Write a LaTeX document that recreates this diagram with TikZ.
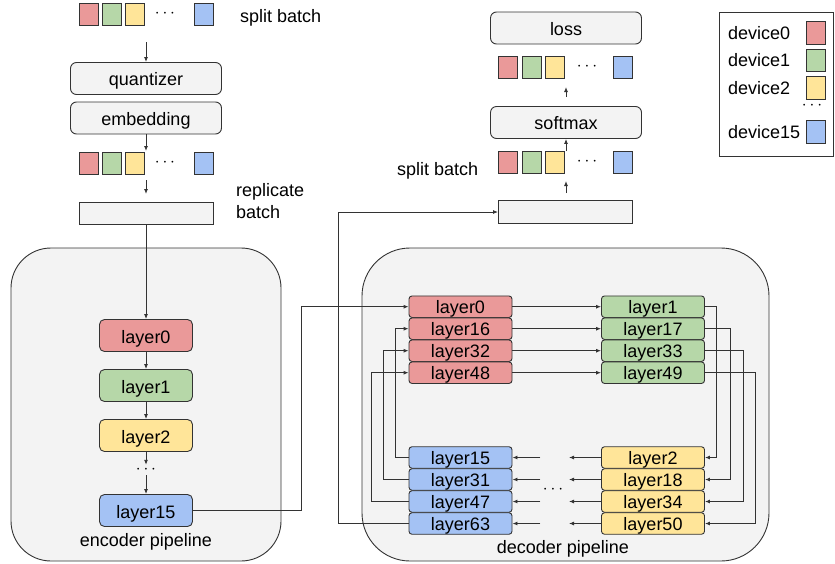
\documentclass[tikz,border=0pt]{standalone}
\usepackage{fontspec}
\setmainfont{Liberation Sans}
\usetikzlibrary{arrows.meta}

\definecolor{devred}{HTML}{EA9999}
\definecolor{devgreen}{HTML}{B6D7A8}
\definecolor{devyellow}{HTML}{FFE599}
\definecolor{devblue}{HTML}{A4C2F4}
\definecolor{boxgray}{HTML}{F3F3F3}
\definecolor{linegray}{HTML}{333333}

\tikzset{
    every node/.style={font=\fontsize{18}{22}\selectfont},
    arr/.style={draw=linegray, line width=0.9pt, -{Latex[length=5pt,width=4pt]}},
    lbl/.style={inner sep=0pt},
    opbox/.style={draw=linegray, line width=0.9pt, fill=boxgray, rounded corners=6pt, minimum width=151pt, minimum height=32pt, inner sep=0pt, text height=14pt, text depth=0pt},
    flatbox/.style={draw=linegray, line width=0.9pt, fill=boxgray, minimum width=134pt, minimum height=22.5pt, inner sep=0pt},
    sq/.style={draw=linegray, line width=0.9pt, fill=#1, minimum width=19pt, minimum height=22.5pt, inner sep=0pt},
    enclayer/.style={draw=linegray, line width=0.9pt, fill=#1, rounded corners=5pt, minimum width=93pt, minimum height=32pt, inner sep=0pt, text height=15pt, text depth=0pt},
    declayer/.style={draw=linegray, line width=0.9pt, fill=#1, rounded corners=3pt, minimum width=103pt, minimum height=21.5pt, inner sep=0pt, text height=13pt, text depth=0pt},
    dotsn/.style={inner sep=0pt, minimum height=10pt},
}

\begin{document}
\begin{tikzpicture}[x=1pt, y=-1pt]
    \useasboundingbox (0,0) rectangle (835,563);

    \draw[draw=linegray, line width=0.9pt, fill=boxgray, rounded corners=40pt] (11,248) rectangle (281,561);
    \draw[draw=linegray, line width=0.9pt, fill=boxgray, rounded corners=48pt] (362,248) rectangle (769,561);
    \node[lbl] (enclbl) at (146,541.5) {encoder pipeline};
    \node[lbl] (declbl) at (563,548.5) {decoder pipeline};

    % input side
    \foreach \c/\x/\n in {devred/88.5/r, devgreen/111.5/g, devyellow/135/y, devblue/203.5/b} {
        \node[sq=\c] (in\n) at (\x,14.5) {};
        \node[sq=\c] (emb\n) at (\x,163.5) {};
    }
    \node[dotsn] (indots) at (165,14) {$\cdots$};
    \node[dotsn] (embdots) at (165,163) {$\cdots$};
    \node[lbl, anchor=west] (splitlbl) at (240,17.5) {split batch};

    \coordinate (qin) at (146,42);
    \node[opbox] (quant) at (146,78.5) {quantizer};
    \node[opbox] (embed) at (146,118) {embedding};
    \coordinate (embout) at (146,151);
    \coordinate (repin0) at (146,180);
    \coordinate (repin1) at (146,194);
    \node[flatbox] (rep) at (146,213.5) {};
    \node[lbl, anchor=west, align=left] (replbl) at (236,201.5) {replicate\\batch};

    \draw[arr] (qin) -- (quant.north);
    \draw[arr] (embed.south) -- (embout);
    \draw[arr] (repin0) -- (repin1);

    % encoder
    \node[enclayer=devred] (e0) at (146,335.5) {layer0};
    \node[enclayer=devgreen] (e1) at (146,385.5) {layer1};
    \node[enclayer=devyellow] (e2) at (146,435.5) {layer2};
    \node[dotsn] (edots) at (146,470) {$\cdots$};
    \node[enclayer=devblue] (e15) at (146,510.5) {layer15};

    \draw[arr] (rep.south) -- (e0.north);
    \draw[arr] (e0.south) -- (e1.north);
    \draw[arr] (e1.south) -- (e2.north);
    \draw[arr] (e2.south) -- (edots.north);
    \draw[arr] (edots.south) -- (e15.north);

    % decoder
    \foreach \a/\b/\y in {0/1/306.7, 16/17/328.7, 32/33/350.7, 48/49/372.7} {
        \node[declayer=devred] (d\a) at (460.5,\y) {layer\a};
        \node[declayer=devgreen] (d\b) at (653,\y) {layer\b};
        \draw[arr] (d\a.east) -- (d\b.west);
    }
    \foreach \a/\b/\y in {15/2/457.5, 31/18/479.5, 47/34/501.5, 63/50/523.5} {
        \node[declayer=devblue] (d\a) at (460.5,\y) {layer\a};
        \node[declayer=devyellow] (d\b) at (653,\y) {layer\b};
        \draw[arr] (d\b.west) -- ++(-32,0);
        \draw[arr] ([xshift=28pt]d\a.east) -- (d\a.east);
    }
    \node[dotsn] (ddots) at (553,490) {$\cdots$};

    \draw[arr] (e15.east) -- ++(108,0) |- (d0.west);

    \draw[arr] (d1.east) -- ++(11,0) |- (d2.east);
    \draw[arr] (d17.east) -- ++(25,0) |- (d18.east);
    \draw[arr] (d33.east) -- ++(38,0) |- (d34.east);
    \draw[arr] (d49.east) -- ++(50,0) |- (d50.east);

    \draw[arr] (d15.west) -- ++(-13,0) |- (d16.west);
    \draw[arr] (d31.west) -- ++(-25,0) |- (d32.west);
    \draw[arr] (d47.west) -- ++(-37,0) |- (d48.west);

    % output side
    \node[flatbox] (sb) at (565.5,212) {};
    \node[lbl, anchor=west] (sblbl) at (397,170.5) {split batch};
    \draw[arr] (d63.west) -- ++(-70,0) |- (sb.west);

    \foreach \c/\x/\n in {devred/508/r, devgreen/532/g, devyellow/555/y, devblue/623/b} {
        \node[sq=\c] (out\n) at (\x,162.5) {};
        \node[sq=\c] (loss\n) at (\x,67.5) {};
    }
    \node[dotsn] (outdots) at (587,162) {$\cdots$};
    \node[dotsn] (lossdots) at (587,67) {$\cdots$};

    \coordinate (sbout0) at (566,193);
    \coordinate (sbout1) at (566,181);
    \coordinate (smin) at (566,151);
    \node[opbox] (soft) at (566,122.5) {softmax};
    \coordinate (smout0) at (566,97);
    \coordinate (smout1) at (566,87);
    \node[opbox] (loss) at (566,28) {loss};

    \draw[arr] (sbout0) -- (sbout1);
    \draw[arr] (smin) -- (soft.south);
    \draw[arr] (smout0) -- (smout1);

    % legend
    \draw[draw=linegray, line width=0.9pt, fill=white] (719,12) rectangle (833,156);
    \foreach \c/\t/\y in {devred/device0/33, devgreen/device1/60.5, devyellow/device2/88, devblue/device15/132} {
        \node[lbl, anchor=west] (lg\t) at (728,\y) {\t};
        \node[sq=\c] (lgsq\t) at (815.5,\y) {};
    }
    \node[dotsn] (lgdots) at (812,106) {$\cdots$};

\end{tikzpicture}
\end{document}
